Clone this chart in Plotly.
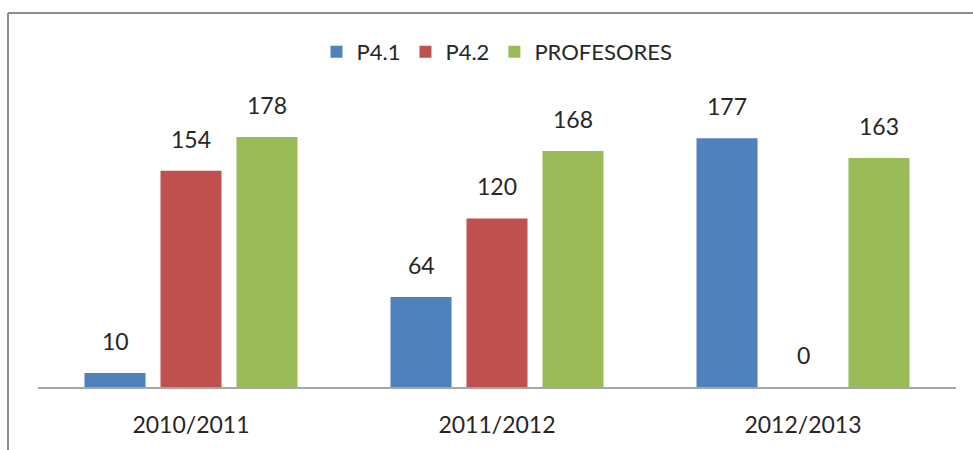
import plotly.graph_objects as go

categories = ["2010/2011", "2011/2012", "2012/2013"]
series_names = ["P4.1", "P4.2", "PROFESORES"]
p41 = [10, 64, 177]
p42 = [154, 120, 0]
profesores = [178, 168, 163]
colors = ["#4F81BD", "#C0504D", "#9BBB59"]

W, H = 973, 450
ml, mr, mt, mb = 38, 17, 106, 63
pw, ph = W - ml - mr, H - mt - mb
font = "Lato, Open Sans, sans-serif"
txt = "#262626"

fig = go.Figure()
allvals = [p41, p42, profesores]
for name, vals, c in zip(series_names, allvals, colors):
    fig.add_trace(go.Bar(name=name, x=categories, y=vals, marker=dict(color=c, line=dict(width=0))))

bargap = 0.255
slot = pw / len(categories) * (1 - bargap) / len(series_names)
for i, vals in enumerate(allvals):
    for cat, v in zip(categories, vals):
        fig.add_annotation(x=cat, y=v, text=str(v), showarrow=False, xref="x", yref="y",
                           yanchor="bottom", yshift=16, xshift=(i - 1) * slot,
                           font=dict(family=font, size=23, color=txt))

def px2paper_x(px):
    return (px - ml) / pw

def px2paper_y(py):
    return (H - mb - py) / ph

fig.add_shape(type="line", xref="paper", yref="paper",
              x0=px2paper_x(8), y0=px2paper_y(13), x1=px2paper_x(W + 5), y1=px2paper_y(13),
              line=dict(color="#8C8C8C", width=2))
fig.add_shape(type="line", xref="paper", yref="paper",
              x0=px2paper_x(8), y0=px2paper_y(13), x1=px2paper_x(8), y1=px2paper_y(H + 5),
              line=dict(color="#8C8C8C", width=2))

fig.update_layout(
    width=W, height=H,
    margin=dict(l=ml, r=mr, t=mt, b=mb),
    paper_bgcolor="white", plot_bgcolor="white",
    barmode="group", bargap=bargap, bargroupgap=0.197,
    showlegend=True,
    legend=dict(orientation="h", x=0.5, xanchor="center", y=px2paper_y(52), yanchor="middle",
                font=dict(family=font, size=22, color=txt), itemwidth=30,
                bgcolor="rgba(0,0,0,0)"),
    font=dict(family=font, color=txt),
)
fig.update_xaxes(showline=True, linecolor="#A6A6A6", linewidth=2, ticks="",
                 tickfont=dict(family=font, size=23, color=txt), ticklabelstandoff=16,
                 showgrid=False, zeroline=False)
fig.update_yaxes(range=[0, 200], visible=False, showgrid=False, zeroline=False)

fig.write_html("out.html", config={"displayModeBar": False},
               post_script="document.body.style.margin='0';document.body.style.overflow='hidden';")
